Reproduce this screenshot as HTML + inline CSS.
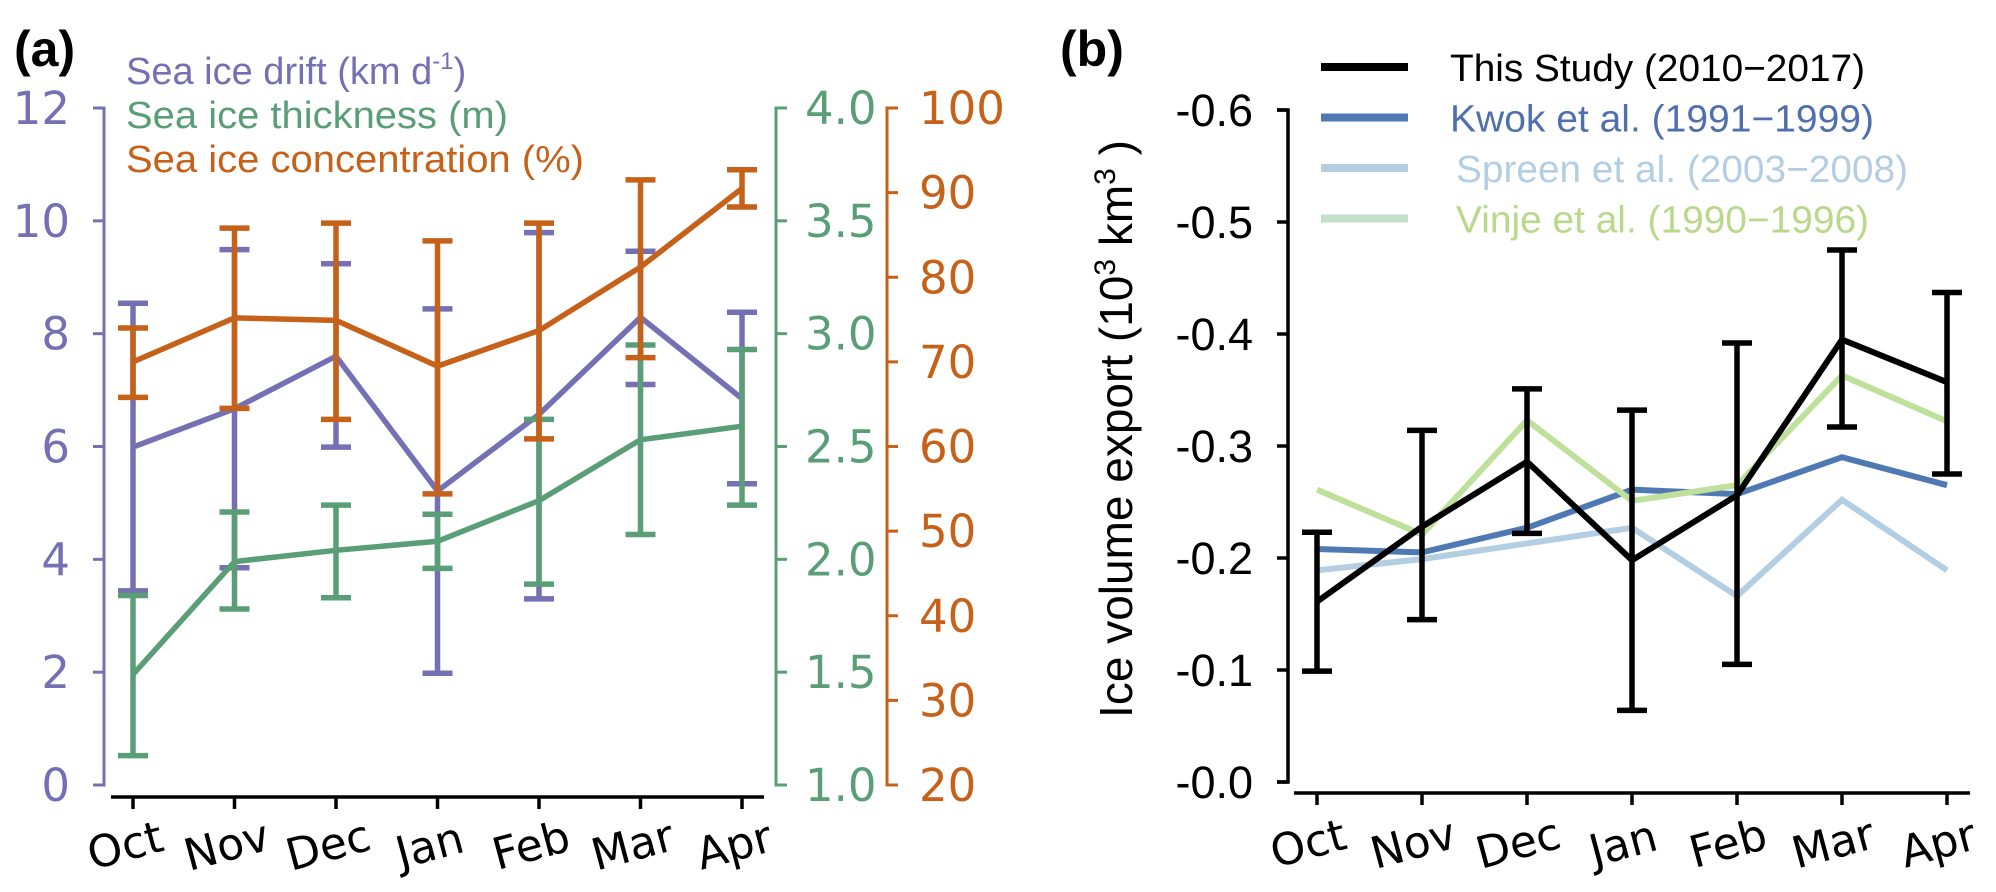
<!DOCTYPE html>
<html><head><meta charset="utf-8"><style>
body{margin:0;background:#fff;}
svg{display:block;}
text{font-family:"DejaVu Sans","Liberation Sans",sans-serif;}
.lg{font-family:"Liberation Sans",sans-serif;}
</style></head><body>
<svg id="chart" width="1996" height="892" viewBox="0 0 1996 892" xmlns="http://www.w3.org/2000/svg">
<text x="14" y="66" font-size="50" font-weight="bold" class="lg">(a)</text>
<text x="1060" y="66" font-size="50" font-weight="bold" class="lg">(b)</text>
<text x="126" y="84" font-size="38" fill="#7570b3" class="lg">Sea ice drift (km d<tspan font-size="24" dy="-15">-1</tspan><tspan dy="15">)</tspan></text>
<text x="126" y="128" font-size="38" fill="#5a9e78" class="lg" textLength="382" lengthAdjust="spacingAndGlyphs">Sea ice thickness (m)</text>
<text x="126" y="172" font-size="38" fill="#c6611a" class="lg" textLength="458" lengthAdjust="spacingAndGlyphs">Sea ice concentration (%)</text>
<g id="pa"></g><g id="pb"></g>
</svg>
<script>
const months=["Oct","Nov","Dec","Jan","Feb","Mar","Apr"];
const drift=[5.99,6.67,7.6,5.21,6.57,8.29,6.85];
const driftHi=[8.54,9.49,9.24,8.44,9.79,9.46,8.38];
const driftLo=[3.44,3.85,5.99,1.98,3.3,7.1,5.34];
const thick=[1.49,1.99,2.04,2.08,2.26,2.53,2.59];
const thickHi=[1.84,2.21,2.24,2.2,2.62,2.95,2.93];
const thickLo=[1.13,1.78,1.83,1.96,1.89,2.11,2.24];
const conc=[70.0,75.2,74.9,69.5,73.7,81.2,90.5];
const concHi=[74.0,85.8,86.4,84.3,86.4,91.5,92.7];
const concLo=[65.8,64.5,63.2,54.4,60.9,70.5,88.3];
const driftTicks=[0,2,4,6,8,10,12];
const thickTicks=["1.0","1.5","2.0","2.5","3.0","3.5","4.0"];
const concTicks=[20,30,40,50,60,70,80,90,100];
const study=[0.161,0.228,0.286,0.198,0.256,0.395,0.357];
const studyHi=[0.223,0.314,0.351,0.332,0.392,0.475,0.437];
const studyLo=[0.099,0.145,0.222,0.064,0.105,0.317,0.275];
const kwok=[0.208,0.205,0.227,0.261,0.257,0.29,0.265];
const spreen=[0.189,0.199,0.213,0.227,0.166,0.252,0.189];
const vinje=[0.261,0.221,0.323,0.251,0.265,0.363,0.322];
const bTicks=["-0.0","-0.1","-0.2","-0.3","-0.4","-0.5","-0.6"];
const legendB=["This Study (2010\u22122017)","Kwok et al. (1991\u22121999)","Spreen et al. (2003\u22122008)","Vinje et al. (1990\u22121996)"];
const legendBLen=[415,424,452,413];

const NS="http://www.w3.org/2000/svg";
function mk(p,tag,a,txt){const e=document.createElementNS(NS,tag);for(const k in a)e.setAttribute(k,a[k]);if(txt!==undefined)e.textContent=txt;p.appendChild(e);return e;}
const C={pu:"#7570b3",gr:"#5a9e78",or:"#c6611a",bk:"#000",bl:"#4f79b3",lb:"#b3cde3",lg:"#bfe09a"};

// Panel A
const pa=document.getElementById("pa");
const xa=i=>133+i*101.5;
const yTop=108,yBot=785;
const yd=v=>yBot-(v-0)/12*(yBot-yTop);
const yt=v=>yBot-(v-1)/3*(yBot-yTop);
const yc=v=>yBot-(v-20)/80*(yBot-yTop);
let e;
e=mk(pa,"path",{d:`M93 ${yTop}H104V${yBot}H93`,stroke:C.pu,"stroke-width":3,fill:"none"});

driftTicks.forEach(t=>{mk(pa,"line",{x1:93,x2:104,y1:yd(t),y2:yd(t),stroke:C.pu,"stroke-width":3});
 e=mk(pa,"text",{x:70,y:yd(t)+16,"font-size":45,fill:C.pu,"text-anchor":"end"},String(t));
 });
e=mk(pa,"path",{d:`M787 ${yTop}H776V${yBot}H787`,stroke:C.gr,"stroke-width":3,fill:"none"});

thickTicks.forEach(t=>{const y=yt(parseFloat(t));mk(pa,"line",{x1:776,x2:787,y1:y,y2:y,stroke:C.gr,"stroke-width":3});
 e=mk(pa,"text",{x:805,y:y+16,"font-size":45,fill:C.gr},t);
 });
e=mk(pa,"path",{d:`M898 ${yTop}H887V${yBot}H898`,stroke:C.or,"stroke-width":3,fill:"none"});

concTicks.forEach(t=>{mk(pa,"line",{x1:887,x2:898,y1:yc(t),y2:yc(t),stroke:C.or,"stroke-width":3});
 e=mk(pa,"text",{x:919,y:yc(t)+16,"font-size":45,fill:C.or},String(t));
 });
e=mk(pa,"line",{x1:111,x2:764,y1:797,y2:797,stroke:"#000","stroke-width":3.5});

months.forEach((m,i)=>{mk(pa,"line",{x1:xa(i),x2:xa(i),y1:797,y2:809,stroke:"#000","stroke-width":3.5});
 e=mk(pa,"text",{x:0,y:0,"font-size":44,"text-anchor":"middle",transform:`translate(${xa(i)-4},${860}) rotate(-15)`},m);
 });
function series(p,xf,yf,vals,hi,lo,col,name,w){
 if(hi){vals.forEach((v,i)=>{const x=xf(i);
  e=mk(p,"path",{d:`M${x} ${yf(hi[i])}V${yf(lo[i])}M${x-15} ${yf(hi[i])}H${x+15}M${x-15} ${yf(lo[i])}H${x+15}`,stroke:col,"stroke-width":5.5,fill:"none"});
  });}
 e=mk(p,"polyline",{points:vals.map((v,i)=>xf(i)+","+yf(v)).join(" "),stroke:col,"stroke-width":w||5.5,fill:"none","stroke-linejoin":"miter"});
 
}
series(pa,xa,yd,drift,driftHi,driftLo,C.pu,"drift");
series(pa,xa,yt,thick,thickHi,thickLo,C.gr,"thickness");
series(pa,xa,yc,conc,concHi,concLo,C.or,"concentration");

// Panel B
const pb=document.getElementById("pb");
const xb=i=>1317+i*105;
const bTop=110,bBot=782;
const yb=v=>bBot-v/0.6*(bBot-bTop);
e=mk(pb,"path",{d:`M1277 ${bTop}H1288V${bBot}H1277`,stroke:"#000","stroke-width":3.5,fill:"none"});

bTicks.forEach((t,i)=>{const y=yb(i*0.1);mk(pb,"line",{x1:1277,x2:1288,y1:y,y2:y,stroke:"#000","stroke-width":3.5});
 e=mk(pb,"text",{x:1253,y:y+16,"font-size":45,"text-anchor":"end",class:"lg"},t);
 });
e=mk(pb,"line",{x1:1294,x2:1970,y1:793,y2:793,stroke:"#000","stroke-width":3.5});

months.forEach((m,i)=>{mk(pb,"line",{x1:xb(i),x2:xb(i),y1:793,y2:805,stroke:"#000","stroke-width":3.5});
 e=mk(pb,"text",{x:0,y:0,"font-size":44,"text-anchor":"middle",transform:`translate(${xb(i)-5},${858}) rotate(-15)`},m);
 });
e=mk(pb,"text",{x:0,y:0,"font-size":46,"text-anchor":"middle",class:"lg",transform:"translate(1132,429) rotate(-90)"});
e.innerHTML='Ice volume export (10<tspan font-size="30" dy="-17">3</tspan><tspan dy="17"> km</tspan><tspan font-size="30" dy="-17">3</tspan><tspan dy="17"> )</tspan>';

series(pb,xb,yb,spreen,null,null,C.lb,"spreen",6);
series(pb,xb,yb,kwok,null,null,C.bl,"kwok",6);
series(pb,xb,yb,vinje,null,null,C.lg,"vinje",6);
series(pb,xb,yb,study,studyHi,studyLo,C.bk,"this-study",6);
const lcols=[C.bk,C.bl,"#b3cde3","#c4dfc9"];const tcols=["#000","#4f6fae","#b3cde3","#b8d88a"];
legendB.forEach((t,i)=>{const y=67+i*50.5;
 e=mk(pb,"line",{x1:1321,x2:1408,y1:y,y2:y,stroke:lcols[i],"stroke-width":8});
 
 e=mk(pb,"text",{x:i>=2?1456:1450,y:y+14,"font-size":38,fill:tcols[i],class:"lg",textLength:legendBLen[i],lengthAdjust:"spacingAndGlyphs"},t);
 });
</script>
</body></html>
